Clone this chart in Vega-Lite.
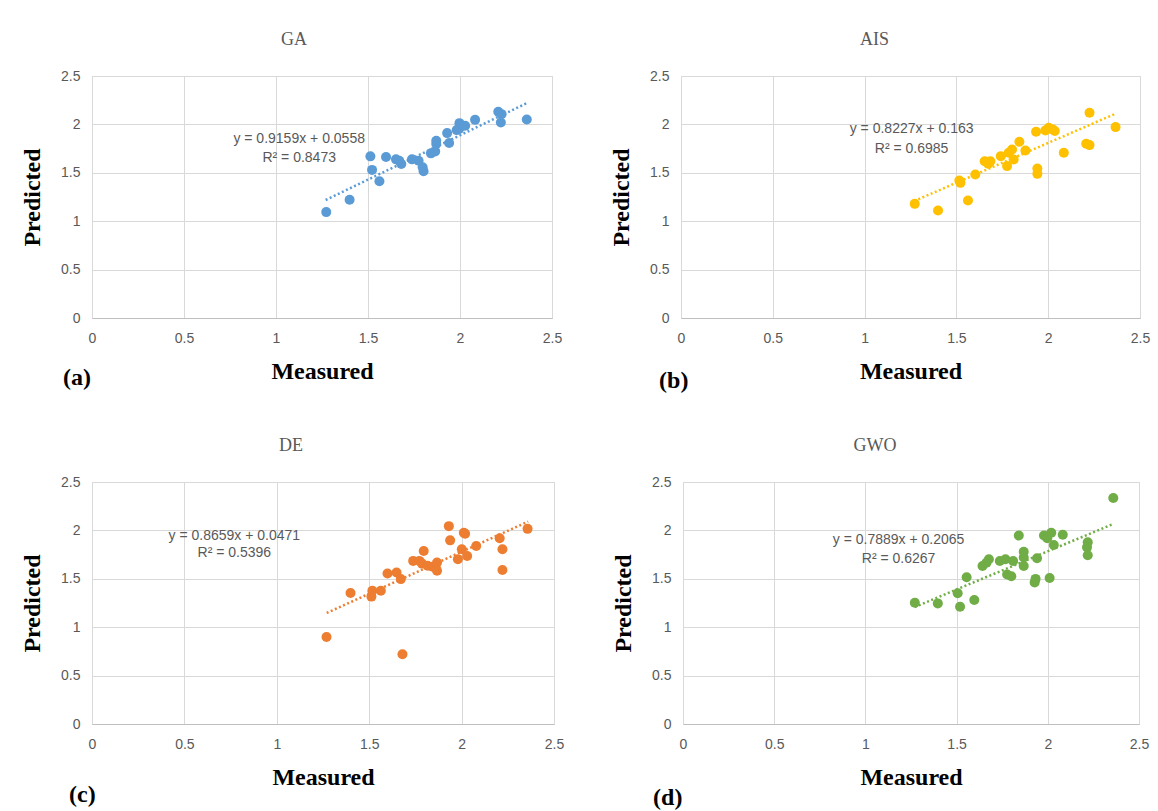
{
  "$schema": "https://vega.github.io/schema/vega-lite/v6.json",
  "background": "white",
  "padding": {"left": 20, "top": 30, "right": 2, "bottom": 5},
  "config": {
    "view": {"stroke": "#d9d9d9", "strokeWidth": 1},
    "axis": {"gridColor": "#d9d9d9", "gridWidth": 1, "ticks": false, "domain": false, "labelFlush": false, "labelColor": "#595959", "labelFont": "Liberation Sans Narrow, Arial Narrow, sans-serif", "labelFontSize": 14, "titleFont": "Liberation Serif, Times New Roman, serif", "titleFontWeight": "bold", "titleFontSize": 24, "titleColor": "#000000"},
    "axisX": {"domain": true, "domainColor": "#bfbfbf", "labelPadding": 13, "titlePadding": 14},
    "axisY": {"labelPadding": 12, "titlePadding": 16},
    "title": {"font": "Liberation Serif, Times New Roman, serif", "fontSize": 18, "fontWeight": "normal", "color": "#595959"},
    "concat": {"spacing": 46}
  },
  "datasets": {
    "pts": [
      {"panel": "GA", "m": 1.273, "p": 1.094}, {"panel": "GA", "m": 1.400, "p": 1.221}, {"panel": "GA", "m": 1.513, "p": 1.670}, {"panel": "GA", "m": 1.522, "p": 1.530}, {"panel": "GA", "m": 1.562, "p": 1.413}, {"panel": "GA", "m": 1.598, "p": 1.663}, {"panel": "GA", "m": 1.652, "p": 1.639}, {"panel": "GA", "m": 1.670, "p": 1.625}, {"panel": "GA", "m": 1.681, "p": 1.591}, {"panel": "GA", "m": 1.739, "p": 1.639}, {"panel": "GA", "m": 1.775, "p": 1.625}, {"panel": "GA", "m": 1.797, "p": 1.557}, {"panel": "GA", "m": 1.802, "p": 1.516}, {"panel": "GA", "m": 1.842, "p": 1.701}, {"panel": "GA", "m": 1.865, "p": 1.721}, {"panel": "GA", "m": 1.871, "p": 1.797}, {"panel": "GA", "m": 1.871, "p": 1.831}, {"panel": "GA", "m": 1.930, "p": 1.910}, {"panel": "GA", "m": 1.941, "p": 1.807}, {"panel": "GA", "m": 1.982, "p": 1.941}, {"panel": "GA", "m": 1.995, "p": 1.952}, {"panel": "GA", "m": 1.997, "p": 2.013}, {"panel": "GA", "m": 2.009, "p": 1.986}, {"panel": "GA", "m": 2.028, "p": 1.986}, {"panel": "GA", "m": 2.082, "p": 2.047}, {"panel": "GA", "m": 2.208, "p": 2.130}, {"panel": "GA", "m": 2.226, "p": 2.106}, {"panel": "GA", "m": 2.222, "p": 2.020}, {"panel": "GA", "m": 2.363, "p": 2.051},
      {"panel": "AIS", "m": 1.273, "p": 1.179}, {"panel": "AIS", "m": 1.400, "p": 1.111}, {"panel": "AIS", "m": 1.516, "p": 1.421}, {"panel": "AIS", "m": 1.522, "p": 1.396}, {"panel": "AIS", "m": 1.563, "p": 1.214}, {"panel": "AIS", "m": 1.603, "p": 1.483}, {"panel": "AIS", "m": 1.654, "p": 1.620}, {"panel": "AIS", "m": 1.673, "p": 1.593}, {"panel": "AIS", "m": 1.685, "p": 1.620}, {"panel": "AIS", "m": 1.742, "p": 1.672}, {"panel": "AIS", "m": 1.776, "p": 1.569}, {"panel": "AIS", "m": 1.785, "p": 1.707}, {"panel": "AIS", "m": 1.803, "p": 1.741}, {"panel": "AIS", "m": 1.812, "p": 1.638}, {"panel": "AIS", "m": 1.843, "p": 1.820}, {"panel": "AIS", "m": 1.876, "p": 1.731}, {"panel": "AIS", "m": 1.934, "p": 1.924}, {"panel": "AIS", "m": 1.941, "p": 1.545}, {"panel": "AIS", "m": 1.941, "p": 1.489}, {"panel": "AIS", "m": 1.985, "p": 1.938}, {"panel": "AIS", "m": 2.003, "p": 1.965}, {"panel": "AIS", "m": 2.025, "p": 1.948}, {"panel": "AIS", "m": 2.036, "p": 1.931}, {"panel": "AIS", "m": 2.085, "p": 1.707}, {"panel": "AIS", "m": 2.207, "p": 1.800}, {"panel": "AIS", "m": 2.225, "p": 1.786}, {"panel": "AIS", "m": 2.225, "p": 2.120}, {"panel": "AIS", "m": 2.367, "p": 1.972},
      {"panel": "DE", "m": 1.269, "p": 0.898}, {"panel": "DE", "m": 1.399, "p": 1.354}, {"panel": "DE", "m": 1.512, "p": 1.316}, {"panel": "DE", "m": 1.517, "p": 1.377}, {"panel": "DE", "m": 1.563, "p": 1.377}, {"panel": "DE", "m": 1.599, "p": 1.555}, {"panel": "DE", "m": 1.648, "p": 1.565}, {"panel": "DE", "m": 1.671, "p": 1.497}, {"panel": "DE", "m": 1.680, "p": 0.721}, {"panel": "DE", "m": 1.738, "p": 1.685}, {"panel": "DE", "m": 1.771, "p": 1.685}, {"panel": "DE", "m": 1.786, "p": 1.657}, {"panel": "DE", "m": 1.795, "p": 1.788}, {"panel": "DE", "m": 1.816, "p": 1.634}, {"panel": "DE", "m": 1.843, "p": 1.624}, {"panel": "DE", "m": 1.860, "p": 1.620}, {"panel": "DE", "m": 1.867, "p": 1.668}, {"panel": "DE", "m": 1.867, "p": 1.583}, {"panel": "DE", "m": 1.931, "p": 2.044}, {"panel": "DE", "m": 1.938, "p": 1.897}, {"panel": "DE", "m": 1.980, "p": 1.703}, {"panel": "DE", "m": 2.001, "p": 1.805}, {"panel": "DE", "m": 2.012, "p": 1.975}, {"panel": "DE", "m": 2.019, "p": 1.965}, {"panel": "DE", "m": 2.030, "p": 1.736}, {"panel": "DE", "m": 2.079, "p": 1.839}, {"panel": "DE", "m": 2.206, "p": 1.918}, {"panel": "DE", "m": 2.221, "p": 1.805}, {"panel": "DE", "m": 2.221, "p": 1.590}, {"panel": "DE", "m": 2.357, "p": 2.016},
      {"panel": "GWO", "m": 1.271, "p": 1.253}, {"panel": "GWO", "m": 1.397, "p": 1.246}, {"panel": "GWO", "m": 1.506, "p": 1.351}, {"panel": "GWO", "m": 1.519, "p": 1.211}, {"panel": "GWO", "m": 1.555, "p": 1.516}, {"panel": "GWO", "m": 1.597, "p": 1.281}, {"panel": "GWO", "m": 1.642, "p": 1.632}, {"panel": "GWO", "m": 1.664, "p": 1.667}, {"panel": "GWO", "m": 1.677, "p": 1.702}, {"panel": "GWO", "m": 1.737, "p": 1.684}, {"panel": "GWO", "m": 1.768, "p": 1.702}, {"panel": "GWO", "m": 1.777, "p": 1.544}, {"panel": "GWO", "m": 1.800, "p": 1.526}, {"panel": "GWO", "m": 1.810, "p": 1.684}, {"panel": "GWO", "m": 1.841, "p": 1.947}, {"panel": "GWO", "m": 1.868, "p": 1.779}, {"panel": "GWO", "m": 1.868, "p": 1.720}, {"panel": "GWO", "m": 1.868, "p": 1.632}, {"panel": "GWO", "m": 1.928, "p": 1.463}, {"panel": "GWO", "m": 1.933, "p": 1.499}, {"panel": "GWO", "m": 1.941, "p": 1.713}, {"panel": "GWO", "m": 1.979, "p": 1.947}, {"panel": "GWO", "m": 1.997, "p": 1.920}, {"panel": "GWO", "m": 2.010, "p": 1.509}, {"panel": "GWO", "m": 2.019, "p": 1.976}, {"panel": "GWO", "m": 2.033, "p": 1.849}, {"panel": "GWO", "m": 2.082, "p": 1.955}, {"panel": "GWO", "m": 2.215, "p": 1.825}, {"panel": "GWO", "m": 2.219, "p": 1.878}, {"panel": "GWO", "m": 2.219, "p": 1.744}, {"panel": "GWO", "m": 2.359, "p": 2.334}
    ],
    "trend": [
      {"panel": "GA", "m": 1.27, "p": 1.219}, {"panel": "GA", "m": 2.36, "p": 2.217},
      {"panel": "AIS", "m": 1.27, "p": 1.208}, {"panel": "AIS", "m": 2.36, "p": 2.105},
      {"panel": "DE", "m": 1.27, "p": 1.147}, {"panel": "DE", "m": 2.36, "p": 2.091},
      {"panel": "GWO", "m": 1.27, "p": 1.208}, {"panel": "GWO", "m": 2.36, "p": 2.068}
    ],
    "eq": [
      {"panel": "GA", "m": 1.126, "p": 1.85, "label": "y = 0.9159x + 0.0558"}, {"panel": "GA", "m": 1.126, "p": 1.656, "label": "R² = 0.8473"},
      {"panel": "AIS", "m": 1.256, "p": 1.948, "label": "y = 0.8227x + 0.163"}, {"panel": "AIS", "m": 1.256, "p": 1.741, "label": "R² = 0.6985"},
      {"panel": "DE", "m": 0.77, "p": 1.942, "label": "y = 0.8659x + 0.0471"}, {"panel": "DE", "m": 0.77, "p": 1.767, "label": "R² = 0.5396"},
      {"panel": "GWO", "m": 1.182, "p": 1.905, "label": "y = 0.7889x + 0.2065"}, {"panel": "GWO", "m": 1.182, "p": 1.702, "label": "R² = 0.6267"}
    ]
  },
  "spacing": 43,
  "vconcat": [
    {"hconcat": [
      {"title": {"text": "(a)", "orient": "bottom", "anchor": "start", "font": "Liberation Serif, Times New Roman, serif", "fontSize": 24, "fontWeight": "bold", "color": "#000000", "dx": 43, "dy": -22},
       "vconcat": [
        {"title": {"text": "GA", "frame": "group", "dx": -28, "offset": 20},
         "width": 460, "height": 242,
         "encoding": {
           "x": {"field": "m", "type": "quantitative", "scale": {"domain": [0, 2.5], "nice": false, "zero": false}, "axis": {"title": "Measured", "values": [0, 0.5, 1, 1.5, 2, 2.5], "format": "~g"}},
           "y": {"field": "p", "type": "quantitative", "scale": {"domain": [0, 2.5], "nice": false, "zero": false}, "axis": {"title": "Predicted", "values": [0, 0.5, 1, 1.5, 2, 2.5], "format": "~g"}}
         },
         "layer": [
           {"data": {"name": "pts"}, "transform": [{"filter": "datum.panel === 'GA'"}], "mark": {"type": "circle", "size": 100, "opacity": 1, "color": "#5B9BD5"}},
           {"data": {"name": "trend"}, "transform": [{"filter": "datum.panel === 'GA'"}], "mark": {"type": "line", "strokeDash": [2, 2.5], "strokeWidth": 2.5, "color": "#5B9BD5"}},
           {"data": {"name": "eq"}, "transform": [{"filter": "datum.panel === 'GA'"}], "mark": {"type": "text", "font": "Liberation Sans Narrow, Arial Narrow, sans-serif", "fontSize": 14, "color": "#595959", "baseline": "middle"}, "encoding": {"text": {"field": "label"}}}
         ]}
      ]},
      {"title": {"text": "(b)", "orient": "bottom", "anchor": "start", "font": "Liberation Serif, Times New Roman, serif", "fontSize": 24, "fontWeight": "bold", "color": "#000000", "dx": 50, "dy": -19},
       "vconcat": [
        {"title": {"text": "AIS", "frame": "group", "dx": -36, "offset": 20},
         "width": 459, "height": 242,
         "encoding": {
           "x": {"field": "m", "type": "quantitative", "scale": {"domain": [0, 2.5], "nice": false, "zero": false}, "axis": {"title": "Measured", "values": [0, 0.5, 1, 1.5, 2, 2.5], "format": "~g"}},
           "y": {"field": "p", "type": "quantitative", "scale": {"domain": [0, 2.5], "nice": false, "zero": false}, "axis": {"title": "Predicted", "values": [0, 0.5, 1, 1.5, 2, 2.5], "format": "~g"}}
         },
         "layer": [
           {"data": {"name": "pts"}, "transform": [{"filter": "datum.panel === 'AIS'"}], "mark": {"type": "circle", "size": 100, "opacity": 1, "color": "#FFC000"}},
           {"data": {"name": "trend"}, "transform": [{"filter": "datum.panel === 'AIS'"}], "mark": {"type": "line", "strokeDash": [2, 2.5], "strokeWidth": 2.5, "color": "#FFC000"}},
           {"data": {"name": "eq"}, "transform": [{"filter": "datum.panel === 'AIS'"}], "mark": {"type": "text", "font": "Liberation Sans Narrow, Arial Narrow, sans-serif", "fontSize": 14, "color": "#595959", "baseline": "middle"}, "encoding": {"text": {"field": "label"}}}
         ]}
      ]}
    ]},
    {"hconcat": [
      {"title": {"text": "(c)", "orient": "bottom", "anchor": "start", "font": "Liberation Serif, Times New Roman, serif", "fontSize": 24, "fontWeight": "bold", "color": "#000000", "dx": 49, "dy": -11},
       "vconcat": [
        {"title": {"text": "DE", "frame": "group", "dx": -32, "offset": 20},
         "width": 462, "height": 242,
         "encoding": {
           "x": {"field": "m", "type": "quantitative", "scale": {"domain": [0, 2.5], "nice": false, "zero": false}, "axis": {"title": "Measured", "values": [0, 0.5, 1, 1.5, 2, 2.5], "format": "~g"}},
           "y": {"field": "p", "type": "quantitative", "scale": {"domain": [0, 2.5], "nice": false, "zero": false}, "axis": {"title": "Predicted", "values": [0, 0.5, 1, 1.5, 2, 2.5], "format": "~g"}}
         },
         "layer": [
           {"data": {"name": "pts"}, "transform": [{"filter": "datum.panel === 'DE'"}], "mark": {"type": "circle", "size": 100, "opacity": 1, "color": "#ED7D31"}},
           {"data": {"name": "trend"}, "transform": [{"filter": "datum.panel === 'DE'"}], "mark": {"type": "line", "strokeDash": [2, 2.5], "strokeWidth": 2.5, "color": "#ED7D31"}},
           {"data": {"name": "eq"}, "transform": [{"filter": "datum.panel === 'DE'"}], "mark": {"type": "text", "font": "Liberation Sans Narrow, Arial Narrow, sans-serif", "fontSize": 14, "color": "#595959", "baseline": "middle"}, "encoding": {"text": {"field": "label"}}}
         ]}
      ]},
      {"title": {"text": "(d)", "orient": "bottom", "anchor": "start", "font": "Liberation Serif, Times New Roman, serif", "fontSize": 24, "fontWeight": "bold", "color": "#000000", "dx": 42, "dy": -8},
       "vconcat": [
        {"title": {"text": "GWO", "frame": "group", "dx": -36, "offset": 20},
         "width": 456, "height": 242,
         "encoding": {
           "x": {"field": "m", "type": "quantitative", "scale": {"domain": [0, 2.5], "nice": false, "zero": false}, "axis": {"title": "Measured", "values": [0, 0.5, 1, 1.5, 2, 2.5], "format": "~g"}},
           "y": {"field": "p", "type": "quantitative", "scale": {"domain": [0, 2.5], "nice": false, "zero": false}, "axis": {"title": "Predicted", "values": [0, 0.5, 1, 1.5, 2, 2.5], "format": "~g"}}
         },
         "layer": [
           {"data": {"name": "pts"}, "transform": [{"filter": "datum.panel === 'GWO'"}], "mark": {"type": "circle", "size": 100, "opacity": 1, "color": "#70AD47"}},
           {"data": {"name": "trend"}, "transform": [{"filter": "datum.panel === 'GWO'"}], "mark": {"type": "line", "strokeDash": [2, 2.5], "strokeWidth": 2.5, "color": "#70AD47"}},
           {"data": {"name": "eq"}, "transform": [{"filter": "datum.panel === 'GWO'"}], "mark": {"type": "text", "font": "Liberation Sans Narrow, Arial Narrow, sans-serif", "fontSize": 14, "color": "#595959", "baseline": "middle"}, "encoding": {"text": {"field": "label"}}}
         ]}
      ]}
    ]}
  ]
}
